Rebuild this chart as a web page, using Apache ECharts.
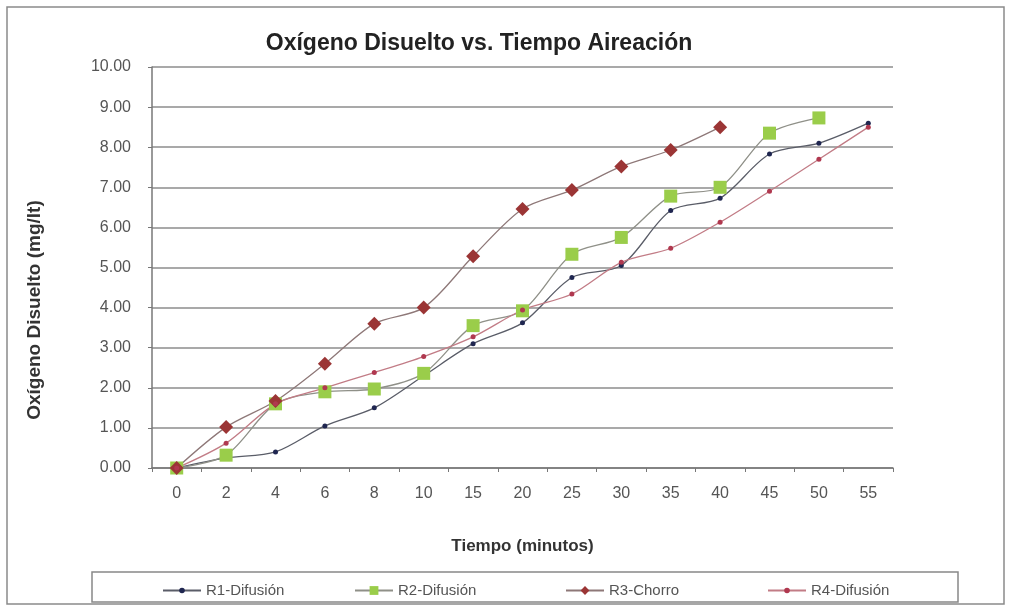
<!DOCTYPE html>
<html>
<head>
<meta charset="utf-8">
<script src="https://cdn.jsdelivr.net/npm/echarts@6/dist/echarts.min.js"></script>
<style>
  html, body { margin: 0; padding: 0; background: #fff; }
  #chart { width: 1016px; height: 610px; }
</style>
</head>
<body>
<div id="chart"></div>
<script>
// Tiempo de aireación (minutos)
const categories = ['0', '2', '4', '6', '8', '10', '15', '20', '25', '30', '35', '40', '45', '50', '55'];
// Oxígeno disuelto (mg/lt) por reactor
const r1Difusion = [0, 0.25, 0.4, 1.05, 1.5, 2.3, 3.1, 3.62, 4.75, 5.05, 6.42, 6.73, 7.83, 8.1, 8.6];
const r2Difusion = [0, 0.32, 1.6, 1.9, 1.97, 2.36, 3.55, 3.92, 5.33, 5.75, 6.78, 7.0, 8.35, 8.73, null];
const r3Chorro = [0, 1.02, 1.67, 2.6, 3.6, 4.0, 5.28, 6.46, 6.93, 7.52, 7.93, 8.5, null, null, null];
const r4Difusion = [0, 0.62, 1.6, 2.0, 2.38, 2.78, 3.27, 3.94, 4.34, 5.13, 5.48, 6.13, 6.9, 7.7, 8.5];
const seriesNames = ['R1-Difusión', 'R2-Difusión', 'R3-Chorro', 'R4-Difusión'];

const FONT = '"Liberation Sans", Arial, sans-serif';
const chart = echarts.init(document.getElementById('chart'));

function legendAt(name, left, markH) {
  return {
    data: [name], left: left, top: 578, itemWidth: 38, itemHeight: markH, itemGap: 6,
    textStyle: { fontFamily: FONT, fontSize: 15, color: '#555' }
  };
}

chart.setOption({
  backgroundColor: '#fff',
  animation: false,
  title: {
    text: 'Oxígeno Disuelto vs. Tiempo Aireación',
    left: 474, top: 27, textAlign: 'center',
    textStyle: { fontFamily: FONT, fontSize: 23, fontWeight: 'bold', color: '#222' }
  },
  graphic: [
    { type: 'rect', shape: { x: 7, y: 7, width: 997, height: 597 }, style: { fill: null, stroke: '#8a8a8a', lineWidth: 1.5 }, silent: true },
    { type: 'rect', shape: { x: 92, y: 572, width: 866, height: 30 }, style: { fill: '#fff', stroke: '#888', lineWidth: 1.5 }, z: -1, silent: true },
    {
      type: 'text', x: 35, y: 310, rotation: Math.PI / 2, silent: true,
      style: {
        text: 'Oxígeno Disuelto (mg/lt)', fontFamily: FONT, fontSize: 19, fontWeight: 'bold',
        fill: '#333', align: 'center', verticalAlign: 'middle'
      }
    }
  ],
  legend: [
    legendAt(seriesNames[0], 157, 7),
    legendAt(seriesNames[1], 349, 11),
    legendAt(seriesNames[2], 560, 11),
    legendAt(seriesNames[3], 762, 7)
  ],
  grid: { left: 152, right: 123, top: 67, bottom: 142 },
  xAxis: {
    type: 'category',
    data: categories,
    boundaryGap: true,
    name: 'Tiempo (minutos)',
    nameLocation: 'middle',
    nameGap: 70,
    nameTextStyle: { fontFamily: FONT, fontSize: 17, fontWeight: 'bold', color: '#333', verticalAlign: 'top' },
    axisLine: { lineStyle: { color: '#777', width: 1.5 } },
    axisTick: { show: true, length: 4, lineStyle: { color: '#777' } },
    axisLabel: { fontFamily: FONT, fontSize: 16, color: '#555', margin: 18 }
  },
  yAxis: {
    type: 'value',
    min: 0, max: 10, interval: 1,
    axisLine: { show: true, lineStyle: { color: '#777', width: 1.5 } },
    axisTick: { show: true, length: 4, lineStyle: { color: '#777' } },
    axisLabel: { fontFamily: FONT, fontSize: 16, color: '#555', margin: 21, formatter: v => v.toFixed(2) },
    splitLine: { show: true, lineStyle: { color: '#8c8c8c', width: 1.5 } }
  },
  series: [
    {
      name: seriesNames[0], type: 'line', data: r1Difusion, smooth: 0.3,
      symbol: 'circle', symbolSize: 5,
      itemStyle: { color: '#1f2650' },
      lineStyle: { color: '#5a5d68', width: 1.3 }
    },
    {
      name: seriesNames[1], type: 'line', data: r2Difusion, smooth: 0.3,
      symbol: 'rect', symbolSize: 13,
      itemStyle: { color: '#9acd4a' },
      lineStyle: { color: '#8f9088', width: 1.3 }
    },
    {
      name: seriesNames[2], type: 'line', data: r3Chorro, smooth: 0.3,
      symbol: 'diamond', symbolSize: 14,
      itemStyle: { color: '#9b3535' },
      lineStyle: { color: '#8e7878', width: 1.3 }
    },
    {
      name: seriesNames[3], type: 'line', data: r4Difusion, smooth: 0.3,
      symbol: 'circle', symbolSize: 5,
      itemStyle: { color: '#b0384f' },
      lineStyle: { color: '#c27c86', width: 1.3 }
    }
  ]
});
</script>
</body>
</html>
